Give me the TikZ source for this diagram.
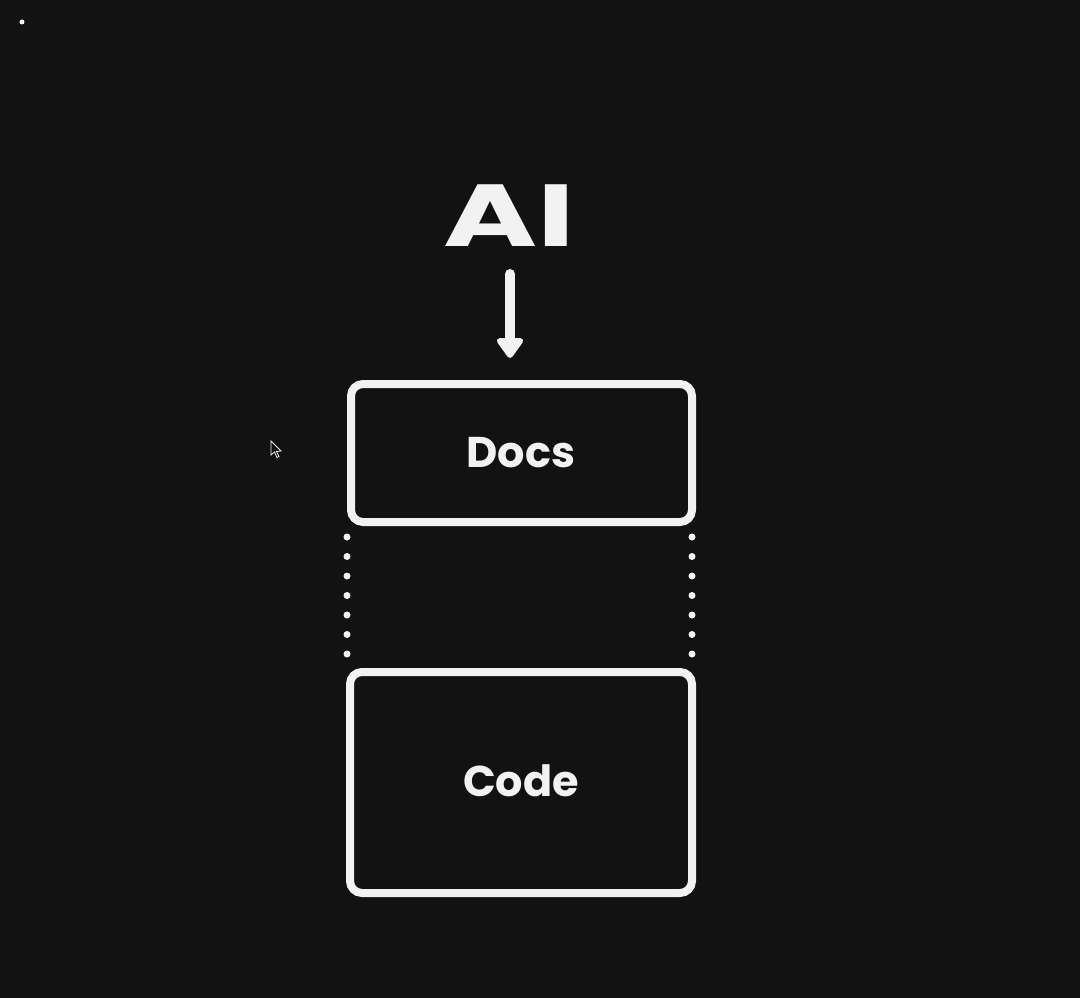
\documentclass[tikz,border=0pt]{standalone}
\usepackage{fontspec}
\setmainfont{Poppins}
\usetikzlibrary{arrows.meta}
\definecolor{bg}{HTML}{121212}
\definecolor{ink}{HTML}{F2F2F2}
\begin{document}
\begin{tikzpicture}[x=1pt,y=-1pt,
  box/.style={draw=ink,line width=8pt,rounded corners=12pt,fill=bg},
  lbl/.style={text=ink,font=\fontsize{43}{47}\selectfont\bfseries},
  dotline/.style={draw=ink,line width=7pt,line cap=round,dash pattern=on 0pt off 19.5pt}]
\fill[bg] (0,0) rectangle (1080,998);
\useasboundingbox (0,0) rectangle (1080,998);
\fill[ink] (22,22) circle (2.5);
% cursor
\draw[ink,line width=0.8pt,fill=bg] (271,441) -- (271,455) -- (274.5,452) -- (277,457.5) -- (279,456.5) -- (276.5,451.5) -- (281,451) -- cycle;
\node[text=ink,font=\fontsize{88}{90}\selectfont\bfseries,xscale=1.45] (ai) at (509,216) {AI};
\draw[box] (351,384) rectangle (692,522);
\node[lbl] (docs) at (521,453) {Docs};
\coordinate (docsTop) at (510,274);
\coordinate (docsTip) at (510,358);
\draw[ink,line width=10pt,line cap=round,-{Triangle[length=22pt,width=30pt,round]}] (docsTop) -- (docsTip);
\draw[box] (350,672) rectangle (692,893);
\node[lbl] (code) at (521,781) {Code};
\coordinate (l1) at (347,537); \coordinate (l2) at (347,660);
\coordinate (r1) at (692,537); \coordinate (r2) at (692,660);
\draw[dotline] (l1) -- (l2);
\draw[dotline] (r1) -- (r2);
\end{tikzpicture}
\end{document}
